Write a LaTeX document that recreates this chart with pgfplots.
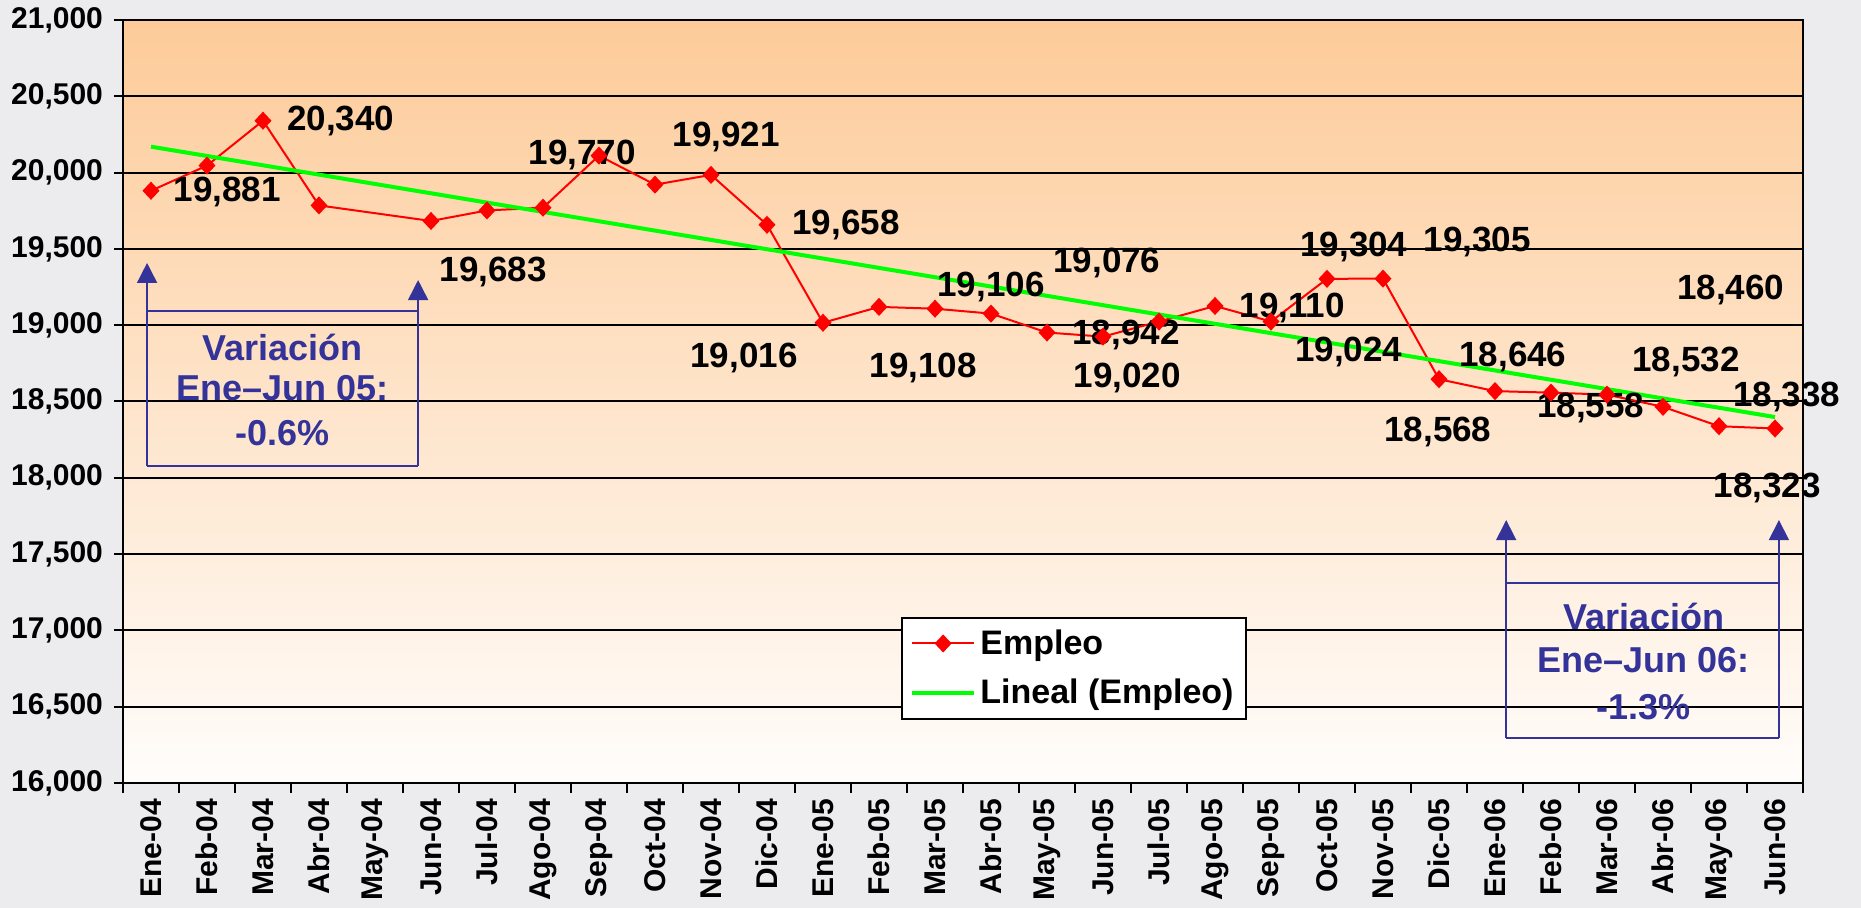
\documentclass[border=0pt]{standalone}
\usepackage{pgfplots}
\pgfplotsset{compat=1.18}
\usepackage{fontspec}
\setmainfont{Liberation Sans}
\usetikzlibrary{arrows.meta}
\definecolor{bgcol}{RGB}{236,236,238}
\definecolor{peachtop}{RGB}{253,203,153}
\definecolor{peachbot}{RGB}{255,253,251}
\definecolor{annblue}{RGB}{51,51,153}
\definecolor{trendgreen}{RGB}{0,255,0}
\begin{document}
\begin{tikzpicture}
\path[use as bounding box, fill=bgcol] (-61.5pt,-62.5pt) rectangle (869pt,391.5pt);
\begin{axis}[
  at={(0,0)}, anchor=south west,
  scale only axis, width=840pt, height=381.5pt,
  xmin=-0.5, xmax=29.5, ymin=16000, ymax=21000,
  ytick={16000,16500,...,21000},
  scaled y ticks=false,
  xtick={0,...,29},
  xticklabels={Ene-04,Feb-04,Mar-04,Abr-04,May-04,Jun-04,Jul-04,Ago-04,Sep-04,Oct-04,Nov-04,Dic-04,Ene-05,Feb-05,Mar-05,Abr-05,May-05,Jun-05,Jul-05,Ago-05,Sep-05,Oct-05,Nov-05,Dic-05,Ene-06,Feb-06,Mar-06,Abr-06,May-06,Jun-06},
  minor xtick={-0.5,0.5,...,29.5},
  tick pos=left, tick align=outside,
  major tick length=4.5pt, minor tick length=5pt,
  tick style={black, line width=1pt},
  major x tick style={draw=none},
  axis line style={black, line width=1.2pt},
  ymajorgrids, grid style={black, line width=1pt},
  axis background/.style={top color=peachtop, bottom color=peachbot},
  /pgf/number format/.cd, fixed, 1000 sep={,}, assume math mode=true,
  /pgfplots/.cd,
  yticklabel style={font=\fontsize{15}{18}\selectfont\bfseries, black, xshift=-2pt},
  xticklabel style={font=\fontsize{15}{18}\selectfont\bfseries, rotate=90, anchor=east, black},
  clip=false,
  legend style={at={(0.463,0.218)}, anchor=north west, draw=black, line width=1pt, fill=white,
    font=\fontsize{17}{20}\selectfont\bfseries, row sep=7pt, inner xsep=4pt, inner ysep=4pt},
  legend cell align=left,
  legend image code/.code={\draw[mark repeat=2,mark phase=2,#1] plot coordinates {(0cm,0cm) (0.55cm,0cm) (1.1cm,0cm)};},
]
\addplot[red, line width=1pt, mark=diamond*, mark size=3.8pt, mark options={fill=red, draw=red, xscale=1.25}] coordinates {
(0,19881) (1,20046) (2,20340) (3,19785) (5,19683) (6,19752) (7,19770) (8,20111)
(9,19921) (10,19985) (11,19658) (12,19016) (13,19120) (14,19108) (15,19076)
(16,18952) (17,18925) (18,19024) (19,19126) (20,19024) (21,19304) (22,19305)
(23,18646) (24,18568) (25,18558) (26,18545) (27,18465) (28,18338) (29,18323)
};
\addlegendentry{Empleo}
\addplot[trendgreen, line width=2pt] coordinates {(0,20170) (29,18398)};
\addlegendentry{Lineal (Empleo)}

\tikzset{lab/.style={font=\fontsize{17.5}{20}\selectfont\bfseries, black, inner sep=0pt}}
\node[lab] at (axis cs:1.36,19873) {19,881};
\node[lab] at (axis cs:3.39,20338) {20,340};
\node[lab] at (axis cs:6.11,19349) {19,683};
\node[lab] at (axis cs:7.70,20115) {19,770};
\node[lab] at (axis cs:10.27,20233) {19,921};
\node[lab] at (axis cs:12.41,19657) {19,658};
\node[lab] at (axis cs:10.59,18785) {19,016};
\node[lab] at (axis cs:13.79,18720) {19,108};
\node[lab] at (axis cs:15.0,19250) {19,106};
\node[lab] at (axis cs:17.07,19408) {19,076};
\node[lab] at (axis cs:17.41,18936) {18,942};
\node[lab] at (axis cs:17.43,18654) {19,020};
\node[lab] at (axis cs:20.38,19113) {19,110};
\node[lab] at (axis cs:21.48,19512) {19,304};
\node[lab] at (axis cs:23.68,19545) {19,305};
\node[lab] at (axis cs:21.39,18825) {19,024};
\node[lab] at (axis cs:24.32,18792) {18,646};
\node[lab] at (axis cs:22.98,18300) {18,568};
\node[lab] at (axis cs:25.71,18457) {18,558};
\node[lab] at (axis cs:27.41,18759) {18,532};
\node[lab] at (axis cs:28.21,19231) {18,460};
\node[lab] at (axis cs:29.21,18530) {18,338};
\node[lab] at (axis cs:28.86,17933) {18,323};

\tikzset{ann/.style={annblue, line width=0.8pt}, annarr/.style={annblue, line width=0.8pt, -{Triangle[width=10pt,length=10pt]}},
  anntext/.style={font=\fontsize{18}{21}\selectfont\bfseries, text=annblue, inner sep=0pt}}
% left box
\draw[annarr] (axis cs:-0.07,18077) -- (axis cs:-0.07,19408);
\draw[annarr] (axis cs:4.77,18077) -- (axis cs:4.77,19296);
\draw[ann] (axis cs:-0.07,19093) -- (axis cs:4.77,19093);
\draw[ann] (axis cs:-0.07,18077) -- (axis cs:4.77,18077);
\node[anntext] at (axis cs:2.35,18857) {Variación};
\node[anntext] at (axis cs:2.35,18589) {Ene–Jun 05:};
\node[anntext] at (axis cs:2.35,18294) {-0.6\%};
% right box
\draw[annarr] (axis cs:24.2,16295) -- (axis cs:24.2,17723);
\draw[annarr] (axis cs:29.07,16295) -- (axis cs:29.07,17723);
\draw[ann] (axis cs:24.2,17311) -- (axis cs:29.07,17311);
\draw[ann] (axis cs:24.2,16295) -- (axis cs:29.07,16295);
\node[anntext] at (axis cs:26.66,17088) {Variación};
\node[anntext] at (axis cs:26.66,16806) {Ene–Jun 06:};
\node[anntext] at (axis cs:26.66,16498) {-1.3\%};
\end{axis}
\end{tikzpicture}
\end{document}
